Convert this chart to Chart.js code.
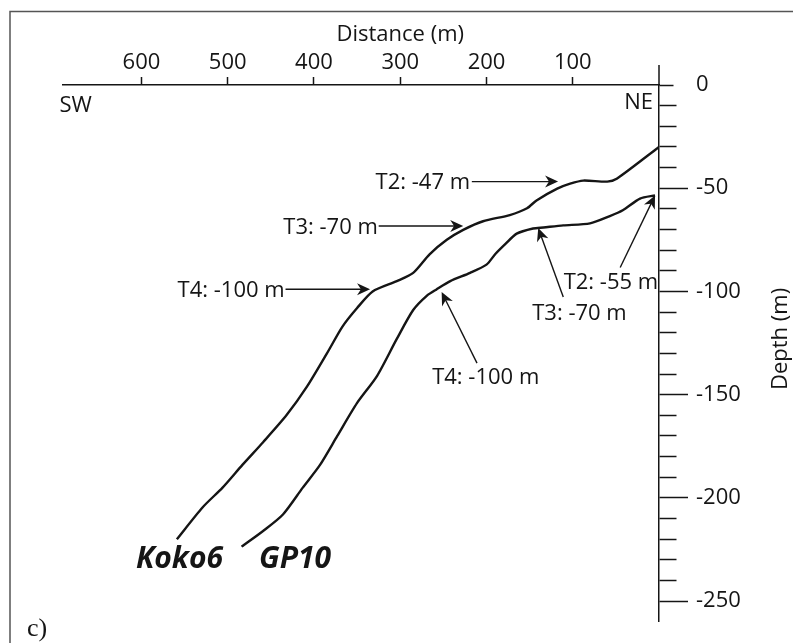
<!DOCTYPE html>
<html>
<head>
<meta charset="utf-8">
<script src="https://cdn.jsdelivr.net/npm/chart.js@4/dist/chart.umd.min.js"></script>
<style>
  html, body { margin: 0; padding: 0; background: #fff; }
  #wrap { width: 793px; height: 643px; position: relative; }
</style>
</head>
<body>
<div id="wrap"><canvas id="chart"></canvas></div>
<script>
// distance along profile (m, measured from the NE end) and depth (m)
const distanceTicks = [600, 500, 400, 300, 200, 100];
const depthMajorTicks = [0, -50, -100, -150, -200, -250];

const koko6Distance = [0, 49, 60, 88, 103, 118, 142, 153, 173, 204, 227, 246, 266, 285, 304, 332, 350, 367, 385, 408, 432, 459, 483, 506, 529, 559];
const koko6Depth = [-30, -45.4, -46.8, -46.3, -47.8, -50.2, -55.9, -59.7, -63, -66, -70.2, -75, -82, -91, -95, -100, -108, -117, -130, -146, -160, -173, -184, -195, -204.5, -220];

const gp10Distance = [4.6, 22, 42, 57, 80, 111, 134, 146, 165, 178, 190, 200, 219, 242, 258, 269, 285, 304, 327, 350, 373, 393, 413, 436, 459, 484];
const gp10Depth = [-53.5, -55, -60.7, -63.5, -67, -68, -69, -69.5, -72, -77, -82, -87, -91, -95, -99, -102, -109, -123, -141, -154, -170, -184, -195, -208, -216, -223.6];

// terrace call-outs: text anchor and arrow, in (distance, depth)
const callouts = [
  { text: "T2: -47 m", at: [219, -46.5], align: "right", from: [217, -46.8], to: [117, -46.8] },
  { text: "T3: -70 m", at: [326, -68.3], align: "right", from: [325, -68.3], to: [227, -68.3] },
  { text: "T4: -100 m", at: [434, -98.9], align: "right", from: [433, -98.9], to: [335, -98.9] },
  { text: "T2: -55 m", at: [1, -94.6], align: "right", from: [45, -88.4], to: [4.6, -53.5] },
  { text: "T3: -70 m", at: [147, -109.9], align: "left", from: [111, -102.7], to: [140, -69.3] },
  { text: "T4: -100 m", at: [263, -141], align: "left", from: [211, -134.7], to: [252, -100.3] }
];

const INK = "#151515";
const FONT = "'Open Sans', 'DejaVu Sans', sans-serif";

function toPoints(xs, ys) {
  return xs.map((x, i) => ({ x: x, y: ys[i] }));
}

function arrow(ctx, x1, y1, x2, y2) {
  const ang = Math.atan2(y2 - y1, x2 - x1);
  const len = 13, half = 6;
  ctx.beginPath();
  ctx.moveTo(x1, y1);
  ctx.lineTo(x2 - Math.cos(ang) * 6, y2 - Math.sin(ang) * 6);
  ctx.stroke();
  ctx.save();
  ctx.translate(x2, y2);
  ctx.rotate(ang);
  ctx.beginPath();
  ctx.moveTo(0, 0);
  ctx.lineTo(-len, -half);
  ctx.lineTo(-len * 0.7, 0);
  ctx.lineTo(-len, half);
  ctx.closePath();
  ctx.fill();
  ctx.restore();
}

const profileDecor = {
  id: "profileDecor",
  afterDraw(chart) {
    const { ctx, chartArea, scales } = chart;
    const px = (d) => scales.x.getPixelForValue(d);
    const py = (z) => scales.y.getPixelForValue(z);
    const nudge = 2; // canvas "middle" sits a bit high for caps
    ctx.save();

    // scanned page frame
    ctx.strokeStyle = "#555";
    ctx.lineWidth = 1.5;
    ctx.beginPath();
    ctx.moveTo(10, chart.height);
    ctx.lineTo(10, 11.5);
    ctx.lineTo(chart.width, 11.5);
    ctx.stroke();

    // depth axis runs a little above sea level
    ctx.strokeStyle = INK;
    ctx.lineWidth = 1.5;
    ctx.beginPath();
    ctx.moveTo(chartArea.right, chartArea.top - 20);
    ctx.lineTo(chartArea.right, chartArea.top);
    ctx.stroke();

    ctx.fillStyle = INK;
    ctx.font = "22px " + FONT;
    ctx.textBaseline = "middle";

    // axis titles
    ctx.textAlign = "center";
    ctx.fillText("Distance (m)", px(300), chartArea.top - 52 + nudge);
    ctx.save();
    ctx.translate(chartArea.right + 128, py(-123));
    ctx.rotate(-Math.PI / 2);
    ctx.textBaseline = "alphabetic";
    ctx.fillText("Depth (m)", 0, 0);
    ctx.restore();

    ctx.textAlign = "left";
    ctx.fillText("SW", px(695), py(-9) + nudge);
    ctx.textAlign = "right";
    ctx.fillText("NE", px(7), py(-7.6) + nudge);

    // call-outs
    ctx.lineWidth = 1.4;
    callouts.forEach((c) => {
      ctx.textAlign = c.align;
      ctx.fillText(c.text, px(c.at[0]), py(c.at[1]) + nudge);
      arrow(ctx, px(c.from[0]), py(c.from[1]), px(c.to[0]), py(c.to[1]));
    });

    // profile names
    ctx.font = "italic bold 30px " + FONT;
    ctx.textAlign = "center";
    ctx.textBaseline = "alphabetic";
    ctx.fillText("Koko6", px(556), py(-234));
    ctx.fillText("GP10", px(422), py(-234));

    // panel letter
    ctx.font = "26px 'Liberation Serif', 'Times New Roman', serif";
    ctx.textAlign = "left";
    ctx.fillText("c)", 27, 636);

    ctx.restore();
  }
};

new Chart(document.getElementById("chart"), {
  type: "scatter",
  data: {
    datasets: [
      {
        label: "Koko6",
        data: toPoints(koko6Distance, koko6Depth),
        showLine: true,
        borderColor: INK,
        borderWidth: 2.4,
        pointRadius: 0,
        tension: 0.25
      },
      {
        label: "GP10",
        data: toPoints(gp10Distance, gp10Depth),
        showLine: true,
        borderColor: INK,
        borderWidth: 2.4,
        pointRadius: 0,
        tension: 0.25
      }
    ]
  },
  plugins: [profileDecor],
  options: {
    responsive: true,
    maintainAspectRatio: false,
    animation: false,
    layout: { padding: { top: 21, left: 63, right: 0, bottom: 14 } },
    plugins: {
      legend: { display: false },
      tooltip: { enabled: false }
    },
    scales: {
      x: {
        type: "linear",
        position: "top",
        reverse: true,
        min: 0,
        max: 691,
        afterBuildTicks(scale) {
          scale.ticks = distanceTicks.map((v) => ({ value: v }));
        },
        afterFit(scale) {
          scale.height = 64;
        },
        grid: { drawOnChartArea: false, tickLength: 8, tickColor: INK, tickWidth: 1.5 },
        border: { color: INK, width: 1.5 },
        ticks: {
          color: INK,
          padding: 1,
          maxRotation: 0,
          autoSkip: false,
          font: { family: FONT, size: 22 },
          callback: (v) => String(v)
        }
      },
      y: {
        type: "linear",
        position: "right",
        min: -260,
        max: 0,
        afterBuildTicks(scale) {
          const t = [];
          for (let v = depthMajorTicks[0]; v >= depthMajorTicks[depthMajorTicks.length - 1]; v -= 10) t.push({ value: v });
          scale.ticks = t;
        },
        afterFit(scale) {
          scale.width = 134;
        },
        grid: {
          drawOnChartArea: false,
          tickLength: 29,
          tickColor: INK,
          tickWidth: 1.5,
          tickBorderDash: (ctx) => {
            const v = ctx.tick ? ctx.tick.value : 1;
            if (v === 0) return [14, 100];
            return depthMajorTicks.includes(v) ? [] : [17, 100];
          }
        },
        border: { color: INK, width: 1.5 },
        ticks: {
          color: INK,
          padding: 8,
          autoSkip: false,
          font: { family: FONT, size: 22 },
          callback: (v) => (depthMajorTicks.includes(v) ? String(v) : "")
        }
      }
    }
  }
});
</script>
</body>
</html>
